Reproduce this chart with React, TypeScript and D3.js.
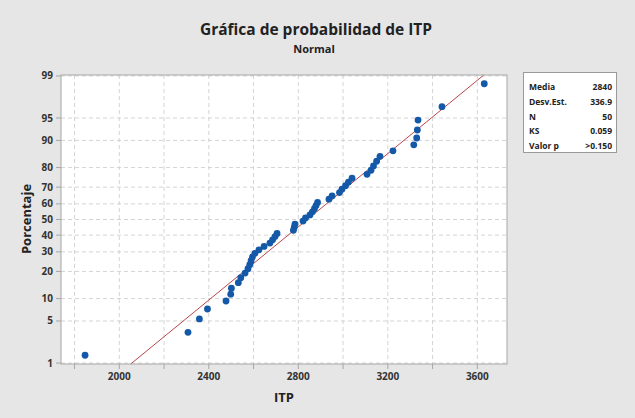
import React from "react";
import * as d3 from "d3";

const itpValues = [
  1847, 2307, 2358, 2394, 2477, 2498, 2501, 2532, 2543, 2562,
  2575, 2583, 2589, 2595, 2606, 2624, 2647, 2673, 2685, 2696,
  2705, 2778, 2782, 2785, 2821, 2832, 2852, 2863, 2872, 2879,
  2886, 2937, 2951, 2984, 2995, 3011, 3024, 3040, 3107, 3125,
  3136, 3150, 3165, 3223, 3316, 3329, 3332, 3335, 3442, 3631,
];
const yTickPercents = [1, 5, 10, 20, 30, 40, 50, 60, 70, 80, 90, 95, 99];
const xTickLabels = [2000, 2400, 2800, 3200, 3600];
const xMinorTicks = [1800, 2000, 2200, 2400, 2600, 2800, 3000, 3200, 3400, 3600];
const statLabels = ["Media", "Desv.Est.", "N", "KS", "Valor p"];
const statValues = ["2840", "336.9", "50", "0.059", ">0.150"];
const fitMean = 2840;
const fitSd = 336.9;

// inverse normal CDF (Acklam)
function probit(p: number): number {
  const a = [-3.969683028665376e1, 2.209460984245205e2, -2.759285104469687e2, 1.38357751867269e2, -3.066479806614716e1, 2.506628277459239];
  const b = [-5.447609879822406e1, 1.615858368580409e2, -1.556989798598866e2, 6.680131188771972e1, -1.328068155288572e1];
  const c = [-7.784894002430293e-3, -3.223964580411365e-1, -2.400758277161838, -2.549732539343734, 4.374664141464968, 2.938163982698783];
  const d = [7.784695709041462e-3, 3.224671290700398e-1, 2.445134137142996, 3.754408661907416];
  const pl = 0.02425;
  if (p < pl) {
    const q = Math.sqrt(-2 * Math.log(p));
    return (((((c[0] * q + c[1]) * q + c[2]) * q + c[3]) * q + c[4]) * q + c[5]) / ((((d[0] * q + d[1]) * q + d[2]) * q + d[3]) * q + 1);
  }
  if (p > 1 - pl) {
    const q = Math.sqrt(-2 * Math.log(1 - p));
    return -(((((c[0] * q + c[1]) * q + c[2]) * q + c[3]) * q + c[4]) * q + c[5]) / ((((d[0] * q + d[1]) * q + d[2]) * q + d[3]) * q + 1);
  }
  const q = p - 0.5;
  const r = q * q;
  return ((((((a[0] * r + a[1]) * r + a[2]) * r + a[3]) * r + a[4]) * r + a[5]) * q) / (((((b[0] * r + b[1]) * r + b[2]) * r + b[3]) * r + b[4]) * r + 1);
}

const W = 635;
const H = 418;
const L = 61, R = 507, T = 75, B = 364;
const FONT = "'Open Sans', 'DejaVu Sans', sans-serif";

export default function App() {
  const x = d3.scaleLinear().domain([1739.5, 3732.6]).range([L, R]);
  const zMax = 2.342;
  const y = d3.scaleLinear().domain([-zMax, zMax]).range([B, T]);
  const n = itpValues.length;
  const sorted = [...itpValues].sort((a, b) => a - b);
  const pts = sorted.map((v, i) => ({ v, z: probit((i + 1 - 0.3) / (n + 0.4)) }));
  const line = d3.line<number>().x((z) => x(fitMean + z * fitSd)).y((z) => y(z));
  const lineZ = [-zMax, zMax];

  return (
    <div style={{ position: "absolute", left: 0, top: 0 }}>
      <svg width={W} height={H} style={{ display: "block", fontFamily: FONT }}>
        <rect x={0} y={0} width={W} height={H} fill="#e6e6e6" />
        <text x={316} y={35} textAnchor="middle" fontSize={15.5} fontWeight={700} fill="#222">
          Gráfica de probabilidad de ITP
        </text>
        <text x={314} y={53} textAnchor="middle" fontSize={11} fontWeight={700} fill="#222">
          Normal
        </text>
        <rect x={L} y={T} width={R - L} height={B - T} fill="#fff" />
        {xMinorTicks.map((t) => (
          <line key={"gx" + t} x1={x(t)} x2={x(t)} y1={T} y2={B} stroke="#d4d4d4" strokeDasharray="4,3" strokeWidth={1} />
        ))}
        {yTickPercents.map((p) => (
          <line key={"gy" + p} x1={L} x2={R} y1={y(probit(p / 100))} y2={y(probit(p / 100))} stroke="#d4d4d4" strokeDasharray="4,3" strokeWidth={1} />
        ))}
        <path d={line(lineZ) || ""} stroke="#b9474a" strokeWidth={1} fill="none" />
        {pts.map((d, i) => (
          <circle key={i} cx={x(d.v)} cy={y(d.z)} r={3.4} fill="#1458a8" />
        ))}
        <rect x={L} y={T} width={R - L} height={B - T} fill="none" stroke="#a6a6a6" strokeWidth={1} />
        {yTickPercents.map((p) => {
          const yy = y(probit(p / 100));
          return (
            <g key={"ty" + p}>
              <line x1={L - 5} x2={L} y1={yy} y2={yy} stroke="#a6a6a6" />
              <text x={L - 8} y={yy} dy="0.35em" textAnchor="end" fontSize={10} fontWeight={700} fill="#333">
                {p}
              </text>
            </g>
          );
        })}
        {xMinorTicks.map((t) => (
          <line key={"tx" + t} x1={x(t)} x2={x(t)} y1={B} y2={B + 5} stroke="#a6a6a6" />
        ))}
        {xTickLabels.map((t) => (
          <text key={"lx" + t} x={x(t)} y={376} dy="0.35em" textAnchor="middle" fontSize={10} fontWeight={700} fill="#333">
            {t}
          </text>
        ))}
        <text x={284} y={402} textAnchor="middle" fontSize={13} fontWeight={700} fill="#222">
          ITP
        </text>
        <text transform={`translate(31,219) rotate(-90)`} textAnchor="middle" fontSize={13} fontWeight={700} fill="#222">
          Porcentaje
        </text>
        <rect x={523.5} y={72.5} width={93} height={80} fill="#fff" stroke="#9a9a9a" />
        {statLabels.map((s, i) => (
          <g key={"st" + i}>
            <text x={529} y={87.5 + i * 14.6} dy="0.35em" fontSize={8.5} fontWeight={700} fill="#222">
              {s}
            </text>
            <text x={612} y={87.5 + i * 14.6} dy="0.35em" textAnchor="end" fontSize={8.5} fontWeight={700} fill="#222">
              {statValues[i]}
            </text>
          </g>
        ))}
      </svg>
    </div>
  );
}
